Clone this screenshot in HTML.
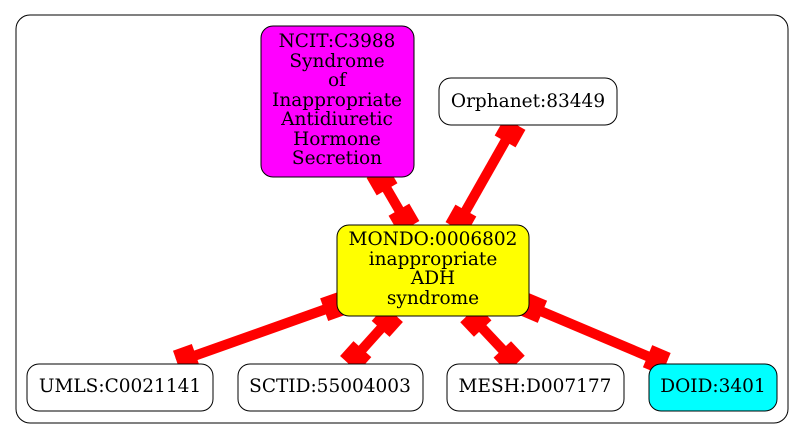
<!DOCTYPE html>
<html><head><meta charset="utf-8"><style>
html,body{margin:0;padding:0;background:#fff;width:804px;height:439px;overflow:hidden}
text{font-family:"DejaVu Serif","Liberation Serif",serif;font-size:18.5px;text-anchor:middle}
</style></head><body>
<svg width="804" height="439" viewBox="0 0 804 439" xmlns="http://www.w3.org/2000/svg">
<rect x="16" y="15" width="772" height="408" rx="14" fill="#fff" stroke="#000"/>
<g stroke="#f00" stroke-width="10" fill="none">
<line x1="377" y1="172" x2="409" y2="227"/>
<line x1="515" y1="124" x2="456" y2="228"/>
<line x1="343" y1="303" x2="177" y2="362"/>
<line x1="394" y1="314" x2="349" y2="364"/>
<line x1="469" y1="314" x2="516" y2="364"/>
<line x1="524" y1="304" x2="666" y2="364"/>
</g>
<g fill="#f00">
<rect x="-20" y="-12" width="20" height="24" transform="translate(409,227) rotate(59.8)"/>
<rect x="-20" y="-12" width="20" height="24" transform="translate(377,172) rotate(239.8)"/>
<rect x="-20" y="-12" width="20" height="24" transform="translate(456,228) rotate(119.6)"/>
<rect x="-20" y="-12" width="20" height="24" transform="translate(515,124) rotate(299.6)"/>
<rect x="-20" y="-12" width="20" height="24" transform="translate(177,362) rotate(160.4)"/>
<rect x="-20" y="-12" width="20" height="24" transform="translate(343,303) rotate(340.4)"/>
<rect x="-20" y="-12" width="20" height="24" transform="translate(349,364) rotate(132)"/>
<rect x="-20" y="-12" width="20" height="24" transform="translate(394,314) rotate(312)"/>
<rect x="-20" y="-12" width="20" height="24" transform="translate(516,364) rotate(46.8)"/>
<rect x="-20" y="-12" width="20" height="24" transform="translate(469,314) rotate(226.8)"/>
<rect x="-20" y="-12" width="20" height="24" transform="translate(666,364) rotate(22.9)"/>
<rect x="-20" y="-12" width="20" height="24" transform="translate(524,304) rotate(202.9)"/>
</g>
<rect x="261" y="26" width="153" height="151" rx="12" fill="#f0f" stroke="#000"/>
<text x="337" y="47">NCIT:C3988</text>
<text x="337" y="67">Syndrome</text>
<text x="337" y="86">of</text>
<text x="337" y="106">Inappropriate</text>
<text x="337" y="125">Antidiuretic</text>
<text x="337" y="145">Hormone</text>
<text x="337" y="164">Secretion</text>
<rect x="439" y="78" width="178" height="47" rx="12" fill="#fff" stroke="#000"/>
<text x="528" y="107">Orphanet:83449</text>
<rect x="337" y="225" width="192" height="91" rx="12" fill="#ff0" stroke="#000"/>
<text x="433" y="245">MONDO:0006802</text>
<text x="433" y="265">inappropriate</text>
<text x="433" y="284">ADH</text>
<text x="433" y="304">syndrome</text>
<rect x="27" y="364" width="186" height="47" rx="12" fill="#fff" stroke="#000"/>
<text x="120" y="392">UMLS:C0021141</text>
<rect x="238" y="364" width="185" height="47" rx="12" fill="#fff" stroke="#000"/>
<text x="330" y="392">SCTID:55004003</text>
<rect x="447" y="364" width="177" height="47" rx="12" fill="#fff" stroke="#000"/>
<text x="535" y="392">MESH:D007177</text>
<rect x="649" y="364" width="128" height="47" rx="12" fill="#0ff" stroke="#000"/>
<text x="713" y="392">DOID:3401</text>
</svg>
</body></html>
